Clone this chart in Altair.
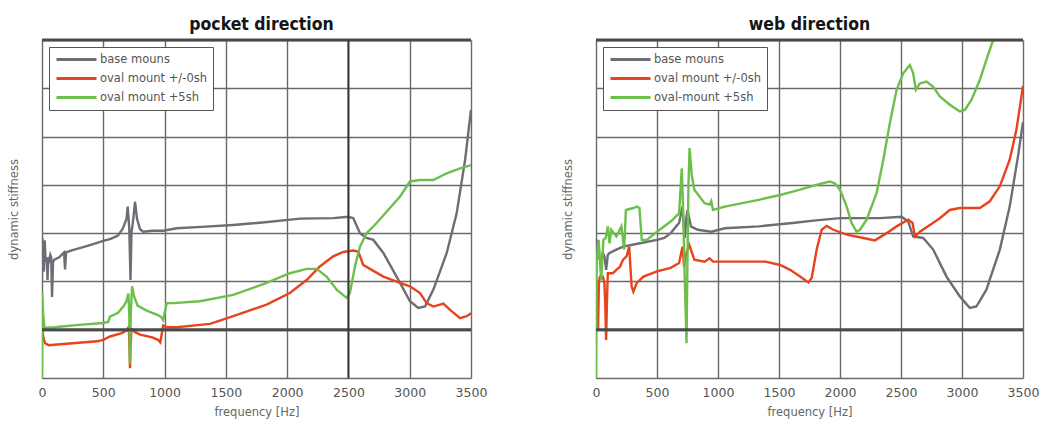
import altair as alt
import pandas as pd

# ---------------- data ----------------
# pocket direction
p_base_f = [0, 3, 8, 15, 22, 30, 38, 45, 52, 60, 68, 75, 82, 90, 100, 140, 180, 188, 196, 250, 350, 450, 500, 560, 620, 660, 690, 699, 712, 722, 730, 745, 759, 775, 800, 826, 900, 989, 1100, 1300, 1560, 1800, 2104, 2376, 2499, 2540, 2594, 2648, 2703, 2785, 2921, 3002, 3070, 3125, 3193, 3302, 3383, 3452, 3500]
p_base_v = [2.05, 2.9, 2.6, 2.2, 2.85, 2.4, 2.5, 2.03, 2.5, 2.45, 2.55, 2.5, 1.68, 2.4, 2.45, 2.5, 2.6, 2.25, 2.6, 2.65, 2.72, 2.8, 2.84, 2.88, 2.95, 3.1, 3.3, 3.55, 3.1, 2.03, 3.0, 3.3, 3.65, 3.3, 3.08, 3.03, 3.05, 3.05, 3.1, 3.13, 3.17, 3.22, 3.30, 3.31, 3.34, 3.31, 3.0, 2.90, 2.86, 2.59, 1.97, 1.59, 1.45, 1.48, 1.83, 2.59, 3.41, 4.52, 5.55]

p_oval0_f = [0, 10, 25, 55, 150, 300, 450, 500, 555, 650, 690, 708, 714, 718, 722, 730, 760, 800, 900, 947, 965, 989, 1015, 1100, 1288, 1371, 1560, 1832, 2022, 2159, 2267, 2376, 2458, 2540, 2580, 2621, 2676, 2785, 2921, 3002, 3084, 3138, 3193, 3275, 3329, 3411, 3465, 3500]
p_oval0_v = [1.06, 0.85, 0.72, 0.68, 0.70, 0.73, 0.76, 0.79, 0.86, 0.93, 0.98, 1.06, 0.6, 0.2, 0.6, 1.02, 0.95, 0.9, 0.84, 0.79, 0.74, 1.09, 1.05, 1.05, 1.10, 1.12, 1.28, 1.52, 1.76, 2.03, 2.31, 2.52, 2.61, 2.64, 2.62, 2.34, 2.26, 2.10, 1.97, 1.90, 1.76, 1.55, 1.48, 1.54, 1.41, 1.24, 1.28, 1.34]

p_oval5_f = [0, 2, 10, 20, 100, 300, 500, 540, 555, 620, 670, 690, 705, 712, 718, 724, 735, 750, 780, 850, 930, 970, 989, 1017, 1070, 1288, 1560, 1832, 2022, 2159, 2240, 2322, 2404, 2485, 2512, 2553, 2594, 2648, 2730, 2921, 3002, 3084, 3193, 3302, 3411, 3500]
p_oval5_v = [0.0, 1.76, 1.3, 1.04, 1.05, 1.1, 1.14, 1.16, 1.27, 1.35, 1.5, 1.6, 1.75, 1.3, 0.3, 1.3, 1.9, 1.7, 1.5, 1.4, 1.32, 1.27, 1.2, 1.55, 1.55, 1.59, 1.72, 1.97, 2.17, 2.26, 2.26, 2.10, 1.83, 1.66, 1.76, 2.31, 2.72, 3.0, 3.21, 3.76, 4.07, 4.10, 4.10, 4.24, 4.34, 4.41]

# web direction
w_base_f = [0, 5, 14, 25, 42, 55, 69, 83, 97, 111, 167, 222, 361, 500, 560, 612, 660, 681, 709, 718, 728, 740, 750, 778, 834, 945, 1056, 1334, 1612, 1782, 2000, 2327, 2505, 2559, 2600, 2682, 2764, 2873, 2982, 3064, 3118, 3200, 3310, 3391, 3459, 3500]
w_base_v = [2.24, 2.86, 2.79, 2.5, 2.38, 2.6, 2.52, 2.24, 2.55, 2.59, 2.66, 2.72, 2.79, 2.86, 2.9, 3.0, 3.15, 3.21, 3.55, 3.2, 2.9, 3.3, 3.48, 3.14, 3.07, 3.03, 3.10, 3.14, 3.21, 3.26, 3.31, 3.31, 3.34, 3.24, 2.93, 2.90, 2.66, 2.10, 1.69, 1.45, 1.48, 1.83, 2.66, 3.55, 4.59, 5.30]

w_oval0_f = [0, 5, 12, 17, 24, 33, 56, 69, 76, 83, 90, 97, 139, 167, 195, 222, 250, 272, 292, 306, 334, 389, 500, 612, 681, 709, 722, 737, 764, 806, 890, 931, 959, 1195, 1390, 1509, 1591, 1673, 1741, 1768, 1809, 1850, 1891, 1945, 2055, 2191, 2286, 2382, 2464, 2559, 2595, 2614, 2655, 2737, 2818, 2900, 2982, 3146, 3228, 3310, 3391, 3446, 3487, 3500]
w_oval0_v = [1.0, 1.97, 1.9, 1.0, 2.0, 2.10, 2.10, 1.97, 1.5, 0.79, 1.6, 2.17, 2.17, 2.24, 2.30, 2.45, 2.52, 2.72, 1.90, 1.79, 1.97, 2.10, 2.21, 2.28, 2.38, 2.72, 2.3, 2.55, 2.76, 2.45, 2.41, 2.48, 2.41, 2.41, 2.41, 2.34, 2.24, 2.10, 1.98, 2.07, 2.66, 3.07, 3.15, 3.07, 2.97, 2.90, 2.85, 3.0, 3.14, 3.28, 3.21, 2.93, 3.03, 3.17, 3.31, 3.48, 3.52, 3.52, 3.66, 3.97, 4.52, 5.14, 5.83, 6.05]

w_oval5_f = [0, 5, 22, 42, 61, 80, 97, 111, 125, 167, 208, 231, 245, 306, 334, 356, 375, 417, 500, 612, 681, 703, 715, 728, 742, 750, 758, 767, 785, 806, 890, 931, 945, 959, 1056, 1334, 1509, 1612, 1673, 1836, 1918, 1959, 2000, 2055, 2095, 2136, 2164, 2218, 2300, 2355, 2409, 2464, 2518, 2573, 2600, 2622, 2655, 2709, 2764, 2818, 2900, 2982, 3023, 3077, 3146, 3200, 3255, 3300]
w_oval5_v = [0.0, 2.38, 2.86, 2.03, 2.86, 2.9, 3.14, 2.79, 3.07, 2.93, 3.14, 2.66, 3.48, 3.52, 3.55, 3.52, 2.86, 2.86, 3.03, 3.24, 3.41, 4.34, 3.4, 2.0, 0.72, 2.5, 4.0, 4.76, 4.2, 3.90, 3.62, 3.59, 3.66, 3.48, 3.55, 3.69, 3.79, 3.86, 3.90, 4.02, 4.07, 4.03, 3.90, 3.55, 3.21, 3.03, 3.07, 3.28, 3.83, 4.52, 5.28, 5.97, 6.31, 6.48, 6.31, 5.97, 6.10, 6.14, 6.03, 5.83, 5.66, 5.52, 5.55, 5.76, 6.17, 6.59, 7.0, 7.35]

pocket_names = ["base mouns", "oval mount +/-0sh", "oval mount +5sh"]
web_names = ["base mouns", "oval mount +/-0sh", "oval-mount +5sh"]
series_colors = ["#6e6c75", "#e8431d", "#6cbf4a"]

x_ticks = [0, 500, 1000, 1500, 2000, 2500, 3000, 3500]
y_grid = [0, 1, 2, 3, 4, 5, 6, 7]
strong_h = [1]
top_h = [7]
pocket_strong_v = [2500]

# wide horizontal stroke drawn inside a small symbol box (keeps legend rows compact)
LEGEND_STROKE = "M-1,0L7,0"


def frame(names, pairs):
    rows = []
    for name, (fs, vs) in zip(names, pairs):
        for i, (f, v) in enumerate(zip(fs, vs)):
            rows.append({"f": f, "v": v, "series": name, "i": i})
    return pd.DataFrame(rows)


def panel(title, names, pairs, width, vlines, dx):
    df = frame(names, pairs)
    x = alt.X("f:Q", scale=alt.Scale(domain=[0, 3500], nice=False),
              axis=alt.Axis(values=x_ticks, format="d", title="frequency [Hz]", grid=True,
                            gridColor="#6a6a6a", gridWidth=1.4, ticks=False,
                            domain=False, labelFlush=False, labelOverlap=False,
                            labelFontSize=12.5, labelColor="#555", labelFont="DejaVu Sans",
                            labelPadding=8, titleFontSize=11.5, titleFontWeight="normal",
                            titleColor="#666", titleFont="DejaVu Sans", titlePadding=8))
    y = alt.Y("v:Q", scale=alt.Scale(domain=[0, 7], nice=False),
              axis=alt.Axis(values=y_grid, title="dynamic stiffness", grid=True,
                            gridColor="#6a6a6a", gridWidth=1.4, labels=False, ticks=False,
                            domain=False, titleFontSize=11.5, titleFontWeight="normal",
                            titleColor="#666", titleFont="DejaVu Sans", titlePadding=23))
    hrules = alt.Chart(pd.DataFrame({"v": strong_h})).mark_rule(
        color="#4a4a4a", strokeWidth=3).encode(y="v:Q")
    toprule = alt.Chart(pd.DataFrame({"v": top_h})).mark_rule(
        color="#4a4a4a", strokeWidth=3).encode(y="v:Q")
    layers = [hrules, toprule]
    if vlines:
        layers.append(alt.Chart(pd.DataFrame({"f": vlines})).mark_rule(
            color="#3a3a3a", strokeWidth=2).encode(x="f:Q"))
    lines = alt.Chart(df).mark_line(strokeWidth=2.4, clip=True).encode(
        x=x, y=y,
        color=alt.Color("series:N",
                        scale=alt.Scale(domain=names, range=series_colors),
                        sort=names,
                        legend=alt.Legend(title=None, orient="top-left", offset=7,
                                          fillColor="white", strokeColor="#555",
                                          padding=6, symbolType=LEGEND_STROKE,
                                          symbolSize=100, symbolStrokeWidth=3,
                                          labelFontSize=11.5, labelColor="#555",
                                          labelFont="DejaVu Sans", rowPadding=6,
                                          labelOffset=32)),
        order="i:Q",
        detail="series:N",
    )
    return alt.layer(lines, *layers).properties(
        width=width, height=338,
        title=alt.TitleParams(title, fontSize=17.5,
                              font="Liberation Sans Narrow, DejaVu Sans Condensed, sans-serif",
                              fontWeight="bold", color="#151515", offset=5,
                              anchor="middle", dx=dx),
    )


left = panel("pocket direction", pocket_names,
             [(p_base_f, p_base_v), (p_oval0_f, p_oval0_v), (p_oval5_f, p_oval5_v)],
             429, pocket_strong_v, 5)
right = panel("web direction", web_names,
              [(w_base_f, w_base_v), (w_oval0_f, w_oval0_v), (w_oval5_f, w_oval5_v)],
              427, None, 0)

chart = alt.hconcat(left, right, spacing=75).resolve_scale(
    color="independent").resolve_legend(color="independent").properties(
    padding={"left": 8, "top": 16, "right": 2, "bottom": 2},
    background="white",
).configure_view(stroke=None)

chart.save("out.html", embed_options={"renderer": "svg", "actions": False})
